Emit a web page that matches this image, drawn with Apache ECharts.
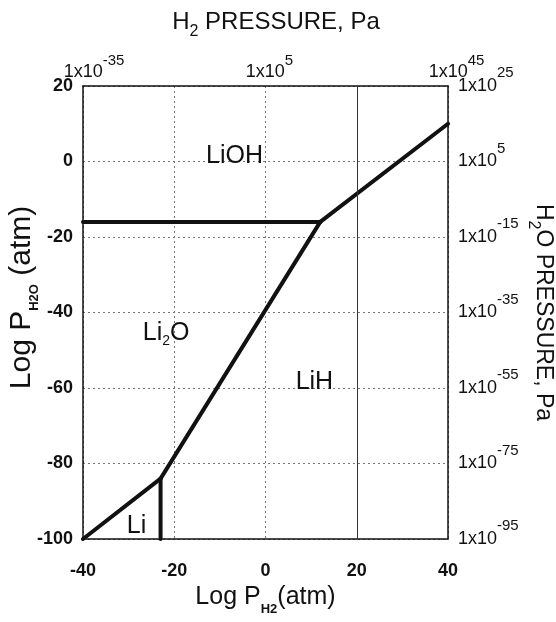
<!DOCTYPE html>
<html>
<head>
<meta charset="utf-8">
<script src="https://cdn.jsdelivr.net/npm/echarts@6/dist/echarts.min.js"></script>
<style>html,body{margin:0;padding:0;background:#fff}#c{width:556px;height:622px}</style>
</head>
<body>
<div id="c"></div>
<script>
// ---- data (log atm) ----
const xRange = [-40, 40];          // Log P_H2 (atm)
const yRange = [-100, 20];         // Log P_H2O (atm)
const xTickStep = 20;
const yTickStep = 20;
const topTickStep = 40;
const paOffset = 5;                // log Pa = log atm + 5
// phase boundaries
const liLi2OBoundary   = [[-40, -100], [-23, -84]];
const liLiHBoundary    = [[-23, -84], [-23, -100]];
const li2OLiHBoundary  = [[-23, -84], [12, -16]];
const liOHLi2OBoundary = [[-40, -16], [12, -16]];
const liOHLiHBoundary  = [[12, -16], [40, 10]];
// phase field labels
const phaseNames = ['{t|LiOH}', '{t|Li}{s|2}{t|O}', '{t|LiH}', '{t|Li}'];
const phaseX = [-7, -22, 10.5, -28.5];
const phaseY = [2, -45, -58, -96];
const solidGridX = [20];

const FONT = 'Liberation Sans, Arial, sans-serif';
const C = '#111';
// superscript label styles: sup raised by P px
const P = 13;
const supRichMid = {
  b: {fontFamily: FONT, fontSize: 18, color: C, lineHeight: 18, verticalAlign: 'middle'},
  s: {fontFamily: FONT, fontSize: 15, color: C, lineHeight: 18, verticalAlign: 'middle', padding: [0, 0, 2 * P, 0]}
};
const supRichBot = {
  p1: {fontSize: 15, width: 8, lineHeight: 18, verticalAlign: 'bottom'},
  p2: {fontSize: 15, width: 17, lineHeight: 18, verticalAlign: 'bottom'},
  p3: {fontSize: 15, width: 22, lineHeight: 18, verticalAlign: 'bottom'},
  b: {fontFamily: FONT, fontSize: 18, color: C, lineHeight: 18, verticalAlign: 'bottom'},
  s: {fontFamily: FONT, fontSize: 15, color: C, lineHeight: 18, verticalAlign: 'bottom', padding: [0, 0, P, 0]}
};
const expLabel = v => '{b|1x10}{s|' + (v + paOffset) + '}';
const expLabelCentered = v => {
  const e = String(v + paOffset);
  return '{p' + e.length + '| }{b|1x10}{s|' + e + '}';
};
function subRich(base, sub, Q, bold) {
  return {
    n: {fontFamily: FONT, fontSize: base, color: C, lineHeight: base + 4, verticalAlign: 'middle'},
    s: {fontFamily: FONT, fontSize: sub, fontWeight: bold ? 'bold' : 'normal', color: C,
        lineHeight: sub + 2, verticalAlign: 'middle', padding: [2 * Q, 0, 0, 0]}
  };
}

const chart = echarts.init(document.getElementById('c'), null, {renderer: 'canvas'});

function boundary(data) {
  return {type: 'line', data: data, xAxisIndex: 0, yAxisIndex: 0, symbol: 'none',
    lineStyle: {color: C, width: 4, cap: 'round'}, silent: true, animation: false};
}

const labelData = phaseNames.map((n, i) => ({value: [phaseX[i], phaseY[i]], name: n}));

const option = {
  animation: false,
  backgroundColor: '#fff',
  title: {
    text: '{n|H}{s|2}{n| PRESSURE, Pa}',
    left: 271, top: 3, textAlign: 'center',
    textStyle: {fontWeight: 'normal', rich: subRich(24, 16, 10, false)}
  },
  grid: {left: 83, right: 108, top: 86, bottom: 83, containLabel: false, outerBoundsMode: 'none'},
  xAxis: [
    {type: 'value', min: xRange[0], max: xRange[1], interval: xTickStep, position: 'bottom',
     name: '{n|Log P}{s|H2}{n|(atm)}', nameLocation: 'middle', nameGap: 44, nameMoveOverlap: false,
     nameTextStyle: {rich: subRich(25, 13, 12, true)},
     axisLine: {onZero: false, lineStyle: {color: C, width: 1.5}}, axisTick: {show: false},
     axisLabel: {fontFamily: FONT, fontSize: 18, fontWeight: 'bold', color: C, margin: 23},
     splitLine: {show: true, lineStyle: {color: '#777', width: 1, type: [2, 3]}}},
    {type: 'value', min: xRange[0], max: xRange[1], interval: topTickStep, position: 'top',
     axisLine: {onZero: false, lineStyle: {color: C, width: 1.5}}, axisTick: {show: false},
     axisLabel: {formatter: expLabelCentered, margin: 5, rich: supRichBot},
     splitLine: {show: false}}
  ],
  yAxis: [
    {type: 'value', min: yRange[0], max: yRange[1], interval: yTickStep, position: 'left',
     name: '{n|Log P}{s|H2O}{n| (atm)}', nameLocation: 'middle', nameGap: 44, nameRotate: 90,
     nameMoveOverlap: false,
     nameTextStyle: {padding: [0, 0, 0, 30], rich: subRich(30, 13, 12, true)},
     axisLine: {onZero: false, lineStyle: {color: C, width: 1.5}}, axisTick: {show: false},
     axisLabel: {fontFamily: FONT, fontSize: 18, fontWeight: 'bold', color: C, margin: 10},
     splitLine: {show: true, lineStyle: {color: '#777', width: 1, type: [2, 3]}}},
    {type: 'value', min: yRange[0], max: yRange[1], interval: yTickStep, position: 'right',
     name: '{n|H}{s|2}{n|O PRESSURE, Pa}', nameLocation: 'middle', nameGap: 82, nameRotate: -90,
     nameMoveOverlap: false,
     nameTextStyle: {rich: subRich(23, 16, 10, false)},
     axisLine: {onZero: false, lineStyle: {color: C, width: 1.5}}, axisTick: {show: false},
     axisLabel: {formatter: expLabel, margin: 10, rich: supRichMid},
     splitLine: {show: false}}
  ],
  series: [
    Object.assign(boundary(liLi2OBoundary), {
      markLine: {silent: true, symbol: 'none', label: {show: false},
        lineStyle: {color: '#333', width: 1, type: 'solid'},
        data: solidGridX.map(v => ({xAxis: v}))}
    }),
    boundary(liLiHBoundary),
    boundary(li2OLiHBoundary),
    boundary(liOHLi2OBoundary),
    boundary(liOHLiHBoundary),
    {type: 'scatter', data: labelData, symbolSize: 0, silent: true,
     itemStyle: {opacity: 1},
     label: {show: true, position: 'inside', color: C, offset: [1, 2], formatter: p => p.name,
       rich: (function () { const r = subRich(25, 14, 8, false); return {t: r.n, s: r.s}; })()}}
  ]
};
chart.setOption(option);
</script>
</body>
</html>
